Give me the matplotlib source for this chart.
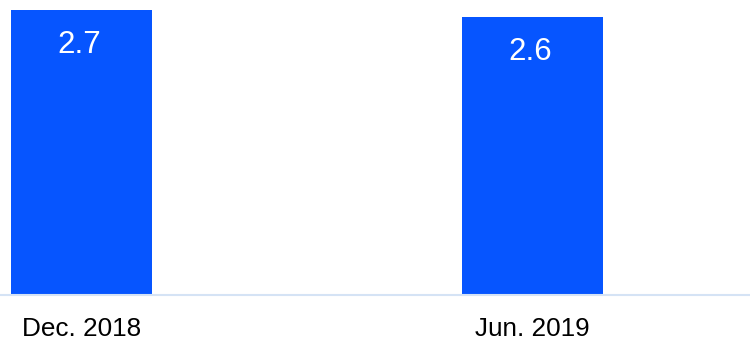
import matplotlib.pyplot as plt

plt.rcParams['font.family'] = ['Liberation Sans', 'DejaVu Sans']

### Data ----------------------------------------------------------------------

periods = ['Dec. 2018', 'Jun. 2019']
values = [2.68, 2.61]	# bar heights as drawn (labels are rounded)
value_labels = ['2.7', '2.6']

### Plot ----------------------------------------------------------------------

fig = plt.figure(figsize=(7.5, 3.4), dpi=100)
ax = fig.add_axes([0, 1 - 295 / 340., 1, 295 / 340.])

x = range(len(values))
bars = ax.bar(x, values, width=0.3126, color='#0655FF', edgecolor='none')

for xi, v, lab in zip(x, values, value_labels):
	ax.annotate(lab, xy=(xi, v), xytext=(-1.5, -25), textcoords='offset points',
		ha='center', va='center', color='white', fontsize=22.5)

ax.set_xlim(-0.1807, 1.4823)
ax.set_ylim(0, 2.774)

for s in ('top', 'right', 'left'):
	ax.spines[s].set_visible(False)
ax.spines['bottom'].set_color('#D5E3F5')
ax.spines['bottom'].set_linewidth(1.5)

ax.set_yticks([])
ax.set_xticks(list(x))
ax.set_xticklabels(periods, fontsize=18.8)
ax.tick_params(axis='x', length=0, pad=16)

fig.savefig('out.png', dpi=100)
